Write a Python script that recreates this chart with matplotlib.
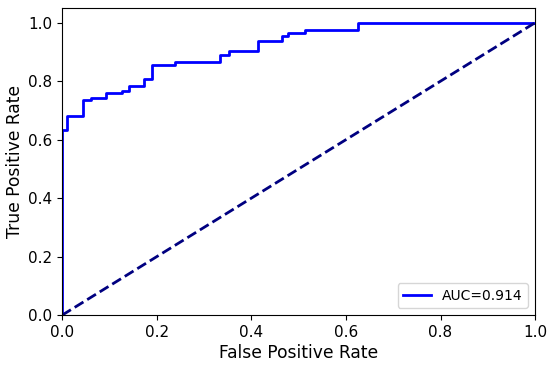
import matplotlib
matplotlib.use("Agg")
import matplotlib.pyplot as plt

# ROC curve points
fpr = [0.0, 0.0, 0.011, 0.011, 0.044, 0.044, 0.061, 0.061, 0.092, 0.092,
       0.126, 0.126, 0.142, 0.142, 0.174, 0.174, 0.191, 0.191, 0.239, 0.239,
       0.334, 0.334, 0.352, 0.352, 0.415, 0.415, 0.464, 0.464, 0.478, 0.478,
       0.514, 0.514, 0.626, 0.626, 1.0]
tpr = [0.0, 0.634, 0.634, 0.682, 0.682, 0.734, 0.734, 0.744, 0.744, 0.758,
       0.758, 0.768, 0.768, 0.784, 0.784, 0.806, 0.806, 0.856, 0.856, 0.865,
       0.865, 0.890, 0.890, 0.903, 0.903, 0.938, 0.938, 0.954, 0.954, 0.966,
       0.966, 0.976, 0.976, 1.0, 1.0]
auc = 0.914

diag_x = [0, 1]
diag_y = [0, 1]


def plot_roc():
    fig = plt.figure(figsize=(5.5, 3.66), dpi=100)
    ax = fig.add_axes([0.113, 0.139, 0.86, 0.839])
    ax.plot(fpr, tpr, color="blue", lw=2, label="AUC=%.3f" % auc)
    ax.plot(diag_x, diag_y, color="navy", lw=2, linestyle="--")
    ax.set_xlim(0.0, 1.0)
    ax.set_ylim(0.0, 1.05)
    ax.set_xlabel("False Positive Rate", fontsize=12.3, labelpad=3)
    ax.set_ylabel("True Positive Rate", fontsize=12.3, labelpad=3)
    ax.tick_params(labelsize=11)
    ax.legend(loc="lower right", fontsize=10)
    fig.savefig("out.png", dpi=100)


if __name__ == "__main__":
    plot_roc()
